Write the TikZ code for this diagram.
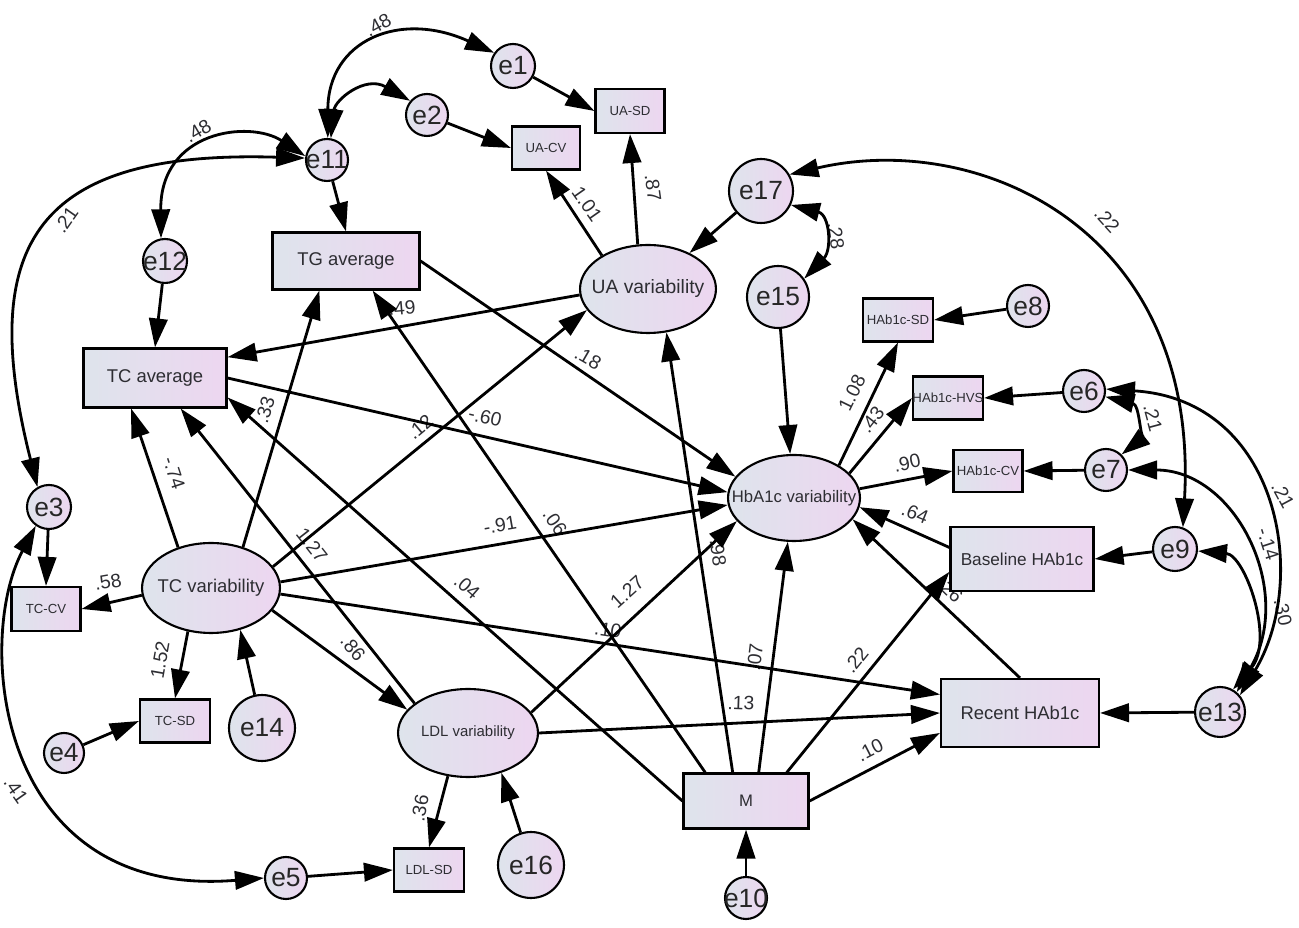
\documentclass[tikz,border=0pt]{standalone}
\usepackage{fontspec}
\setmainfont{Liberation Sans}
\usetikzlibrary{arrows.meta,shapes.geometric}

\definecolor{fillL}{RGB}{222,228,236}
\definecolor{fillR}{RGB}{237,214,240}
\definecolor{txt}{RGB}{45,45,50}
\newcommand{\zbox}[1]{\makebox[0pt]{#1}}

\tikzset{
  obs/.style 2 args={draw, line width=1.2pt, rectangle, inner sep=0pt,
    minimum width=#1*0.02cm, minimum height=#2*0.02cm,
    left color=fillL, right color=fillR, text=txt,
    font=\fontsize{10.5}{12}\selectfont},
  small/.style={font=\fontsize{7.5}{9}\selectfont},
  lat/.style 2 args={draw, line width=1.2pt, ellipse, inner sep=0pt,
    minimum width=#1*0.04cm, minimum height=#2*0.04cm,
    left color=fillL, right color=fillR, text=txt},
  err/.style={draw, line width=1.2pt, circle, inner sep=0pt,
    minimum size=#1*0.04cm, left color=fillL, right color=fillR,
    text=black!85, font=\fontsize{15}{15}\selectfont},
  pth/.style={-{Triangle[length=16.5pt,width=10.5pt]}, line width=1.6pt},
  cov/.style={{Triangle[length=16.5pt,width=10.5pt]}-{Triangle[length=16.5pt,width=10.5pt]}, line width=1.6pt},
  coef/.style={font=\fontsize{11}{11}\selectfont, text=txt, inner sep=0pt},
}

\begin{document}
\begin{tikzpicture}[x=0.02cm, y=-0.02cm]
\useasboundingbox (0,0) rectangle (1299,928);

% estimates
\node[coef, rotate=28] (k1) at (378,25) {.48};
\node[coef, rotate=30] (k2) at (198,131) {.48};
\node[coef, rotate=55] (k3) at (66,220) {.21};
\node[coef, rotate=-55] (k4) at (587,204) {1.01};
\node[coef, rotate=-82] (k5) at (653,188) {.87};
\node[coef, rotate=-82] (k6) at (836,236) {.28};
\node[coef, rotate=-48] (k7) at (1107,220) {.22};
\node[coef, rotate=64] (k8) at (852,393) {1.08};
\node[coef, rotate=52] (k9) at (872,420) {.43};
\node[coef, rotate=12] (k10) at (907,463) {.90};
\node[coef, rotate=-22] (k11) at (915,513) {.64};
\node[coef, rotate=-44] (k12) at (950,590) {.26};
\node[coef, rotate=-75] (k13) at (1153,418) {.21};
\node[coef, rotate=-62] (k14) at (1283,495) {.21};
\node[coef, rotate=-72] (k15) at (1268,544) {-.14};
\node[coef, rotate=-78] (k16) at (1283,612) {.30};
\node[coef, rotate=5] (k17) at (402,308) {.49};
\node[coef, rotate=73] (k18) at (265,410) {.33};
\node[coef, rotate=-72] (k19) at (174,473) {-.74};
\node[coef, rotate=40] (k20) at (420,427) {.12};
\node[coef, rotate=-13] (k21) at (485,417) {-.60};
\node[coef, rotate=-30] (k22) at (588,358) {.18};
\node[coef, rotate=10] (k23) at (500,525) {-.91};
\node[coef, rotate=-55] (k24) at (555,522) {.06};
\node[coef, rotate=-82] (k25) at (718,553) {.98};
\node[coef, rotate=-41] (k26) at (467,587) {.04};
\node[coef, rotate=42] (k27) at (627,592) {1.27};
\node[coef, rotate=-9] (k28) at (608,630) {.10};
\node[coef, rotate=-52] (k29) at (312,545) {1.27};
\node[coef, rotate=10] (k30) at (108,582) {.58};
\node[coef, rotate=80] (k31) at (160,660) {1.52};
\node[coef, rotate=-50] (k32) at (353,648) {.86};
\node[coef, rotate=80] (k33) at (420,808) {.36};
\node[coef, rotate=83] (k34) at (755,657) {.07};
\node[coef, rotate=51] (k35) at (856,660) {.22};
\node[coef, rotate=-2] (k36) at (741,703) {.13};
\node[coef, rotate=27] (k37) at (870,750) {.10};
\node[coef, rotate=-55] (k38) at (16,790) {.41};

% observed variables
\node[obs={69}{44}, small] (UASD) at (630,111) {\zbox{UA-SD}};
\node[obs={68}{43}, small] (UACV) at (546,148) {\zbox{UA-CV}};
\node[obs={147}{57}] (TGavg) at (346,261) {\zbox{TG average}};
\node[obs={143}{59}] (TCavg) at (155,378) {\zbox{TC average}};
\node[obs={70}{43}, small] (HSD) at (898,320) {\zbox{HAb1c-SD}};
\node[obs={70}{43}, small] (HHVS) at (948,398) {\zbox{HAb1c-HVS}};
\node[obs={69}{42}, small] (HCV) at (988,471) {\zbox{HAb1c-CV}};
\node[obs={143}{64}, font=\fontsize{9.8}{11}\selectfont] (Base) at (1022,559) {\zbox{Baseline HAb1c}};
\node[obs={158}{68}] (Recent) at (1020,713) {\zbox{Recent HAb1c}};
\node[obs={69}{44}, small] (TCCV) at (46,609) {\zbox{TC-CV}};
\node[obs={70}{43}, small] (TCSD) at (175,721) {\zbox{TC-SD}};
\node[obs={70}{43}, small] (LDLSD) at (429,870) {\zbox{LDL-SD}};
\node[obs={125}{55}, font=\fontsize{9.5}{11}\selectfont] (M) at (746,801) {\zbox{M}};

% latent variables
\node[lat={68}{44}, font=\fontsize{11}{12}\selectfont] (UAvar) at (648,289) {\zbox{UA variability}};
\node[lat={66}{43}, font=\fontsize{9.5}{11}\selectfont] (HbAvar) at (794,498) {\zbox{HbA1c variability}};
\node[lat={69}{45}, font=\fontsize{10.5}{12}\selectfont] (TCvar) at (211,588) {\zbox{TC variability}};
\node[lat={70}{44}, font=\fontsize{8.5}{10}\selectfont] (LDLvar) at (468,733) {\zbox{LDL variability}};

% error terms
\node[err=22] (e1) at (513,66) {\zbox{e1}};
\node[err=21] (e2) at (427,115) {\zbox{e2}};
\node[err=21] (e11) at (327,160) {\zbox{e11}};
\node[err=22] (e12) at (165,261) {\zbox{e12}};
\node[err=32] (e17) at (761,191) {\zbox{e17}};
\node[err=31] (e15) at (778,297) {\zbox{e15}};
\node[err=21] (e8) at (1028,306) {\zbox{e8}};
\node[err=21] (e6) at (1084,391) {\zbox{e6}};
\node[err=21] (e7) at (1106,470) {\zbox{e7}};
\node[err=22] (e9) at (1175,549) {\zbox{e9}};
\node[err=25] (e13) at (1220,712) {\zbox{e13}};
\node[err=22] (e3) at (49,507) {\zbox{e3}};
\node[err=20] (e4) at (64,753) {\zbox{e4}};
\node[err=33] (e14) at (262,728) {\zbox{e14}};
\node[err=21] (e5) at (286,878) {\zbox{e5}};
\node[err=33] (e16) at (531,865) {\zbox{e16}};
\node[err=21] (e10) at (746,898) {\zbox{e10}};

% regression paths
\draw[pth] (e1) -- (UASD.west);
\draw[pth] (e2) -- (UACV.west);
\draw[pth] (UAvar.144) -- (UACV.south);
\draw[pth] (UAvar.103) -- (UASD.south);
\draw[pth] (e17) -- (UAvar);
\draw[pth] (e11) -- (TGavg.north);
\draw[pth] (e12) -- (TCavg.north);
\draw[pth] (e3) -- (TCCV.north);
\draw[pth] (e4) -- (TCSD.west);
\draw[pth] (e5) -- (LDLSD.west);
\draw[pth] (TCvar.186) -- (TCCV.east);
\draw[pth] (TCvar.-118) -- (TCSD.north);
\draw[pth] (e14) -- (TCvar.-55);
\draw[pth] (TCvar.129) -- (TCavg.-128);
\draw[pth] (TCvar.52) -- (TGavg.-132);
\draw[pth] (TCvar.19) -- (UAvar.199);
\draw[pth] (TCvar.5) -- (HbAvar.186);
\draw[pth] (TCvar.-5) -- (Recent.167);
\draw[pth] (TCvar.-20) -- (LDLvar.159);
\draw[pth] (LDLvar.151) -- (TCavg.-50);
\draw[pth] (LDLvar.18) -- (HbAvar.202);
\draw[pth] (LDLvar.east) -- (Recent.west);
\draw[pth] (LDLvar.-115) -- (LDLSD.north);
\draw[pth] (e16) -- (LDLvar.-50);
\draw[pth] (UAvar.185) -- (TCavg.16);
\draw[pth] (TGavg.east) -- (HbAvar.160);
\draw[pth] (TCavg.east) -- (HbAvar.175);
\draw[pth] (e15) -- (HbAvar.95);
\draw[pth] (M.66) -- (HbAvar.-98);
\draw[pth] (M.115) -- (UAvar.-67);
\draw[pth] (M.145) -- (TGavg.-48);
\draw[pth] (M.west) -- (TCavg.-15);
\draw[pth] (M.35) -- (Base.190);
\draw[pth] (M.east) -- (Recent.194);
\draw[pth] (e10) -- (M.south);
\draw[pth] (Base.171) -- (HbAvar.-8);
\draw[pth] (Recent.north) -- (HbAvar.-20);
\draw[pth] (HbAvar.36) -- (HSD.south);
\draw[pth] (HbAvar.24) -- (HHVS.west);
\draw[pth] (HbAvar.8) -- (HCV.west);
\draw[pth] (e8) -- (HSD.east);
\draw[pth] (e6) -- (HHVS.east);
\draw[pth] (e7) -- (HCV.east);
\draw[pth] (e9) -- (Base.east);
\draw[pth] (e13) -- (Recent.east);

% covariances
\draw[cov] (e11.88) .. controls (328,40) and (400,10) .. (e1.145);
\draw[cov] (e11.80) .. controls (335,100) and (365,75) .. (e2.140);
\draw[cov] (e11.170) .. controls (250,120) and (160,130) .. (e12.100);
\draw[cov] (e11.175) .. controls (40,150) and (-25,240) .. (e3.120);
\draw[cov] (e3.-125) .. controls (-25,640) and (-5,900) .. (e5.180);
\draw[cov] (e17.-25) .. controls (830,215) and (832,250) .. (e15.35);
\draw[cov] (e17.30) .. controls (980,130) and (1200,230) .. (e9.70);
\draw[cov] (e6.-15) .. controls (1140,405) and (1140,440) .. (e7.45);
\draw[cov] (e6.5) .. controls (1280,400) and (1310,580) .. (e13.40);
\draw[cov] (e7.0) .. controls (1235,470) and (1295,590) .. (e13.50);
\draw[cov] (e9.-5) .. controls (1245,555) and (1275,640) .. (e13.60);
\end{tikzpicture}
\end{document}
